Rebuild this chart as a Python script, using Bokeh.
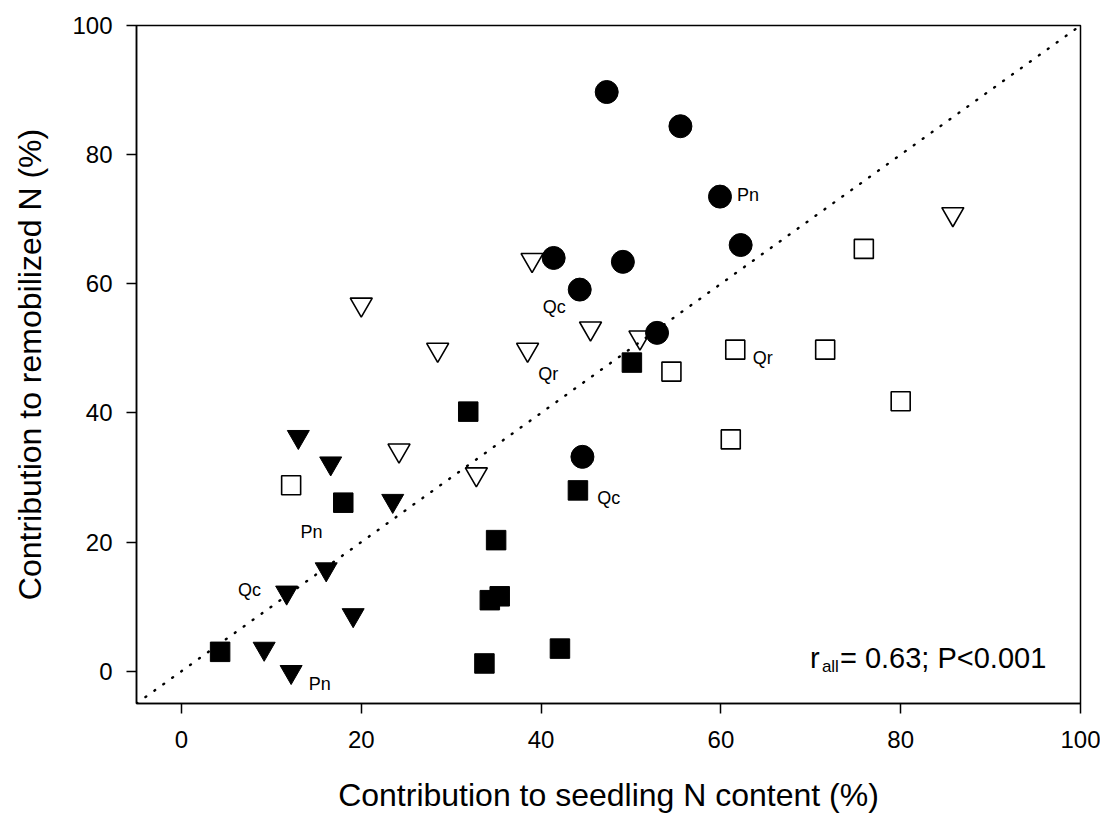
from bokeh.plotting import figure
from bokeh.models import Range1d, FixedTicker, ColumnDataSource
from bokeh.core.properties import value
from bokeh.embed import file_html
from bokeh.resources import INLINE

# ---- data ----
circ_x = [47.3, 55.5, 59.9, 62.2, 41.4, 49.1, 44.3, 52.9, 44.6]
circ_y = [89.7, 84.4, 73.5, 66.0, 64.0, 63.4, 59.1, 52.4, 33.2]

sqf_x = [4.3, 18.0, 31.9, 35.0, 34.3, 35.4, 33.7, 42.1, 44.1, 50.1]
sqf_y = [3.0, 26.1, 40.2, 20.3, 11.0, 11.6, 1.2, 3.5, 28.0, 47.8]

sqo_x = [12.2, 54.5, 61.6, 71.6, 80.0, 61.1, 75.9]
sqo_y = [28.8, 46.4, 49.8, 49.8, 41.8, 35.9, 65.4]

trio_x = [20.0, 39.0, 45.5, 28.5, 38.5, 51.0, 85.8, 24.2, 32.8]
trio_y = [56.8, 63.7, 53.1, 49.8, 49.8, 51.7, 70.8, 34.2, 30.5]

trif_x = [13.0, 16.6, 23.5, 16.1, 11.7, 19.1, 9.2, 12.2]
trif_y = [36.3, 32.2, 26.4, 15.8, 12.2, 8.7, 3.5, -0.1]

one_to_one = [-5, 100]
ticks = [0, 20, 40, 60, 80, 100]

# point labels: (series, index, text)
label_series = ["circ", "circ", "trio", "sqo", "sqf", "sqf", "trif", "trif"]
label_index = [2, 6, 4, 2, 8, 1, 4, 7]
label_text = ["Pn", "Qc", "Qr", "Qr", "Qc", "Pn", "Qc", "Pn"]

stat_main = "= 0.63; P<0.001"
stat_r = "r"
stat_sub = "all"

# ---- styles ----
FONT = "Liberation Sans"
label_dx = [17, -37, 10.6, 17.4, 19.4, -42.7, -48.7, 17.6]
label_dy = [-2, 17.7, 24.5, 8.7, 7.7, 29, -2.5, 11.8]

series = {"circ": (circ_x, circ_y), "sqf": (sqf_x, sqf_y), "sqo": (sqo_x, sqo_y),
          "trio": (trio_x, trio_y), "trif": (trif_x, trif_y)}

p = figure(width=1100, height=815,
           x_range=Range1d(-5, 100), y_range=Range1d(-5, 100),
           output_backend="svg", toolbar_location=None,
           min_border_left=136, min_border_right=20,
           min_border_top=25, min_border_bottom=110)
p.background_fill_color = "white"
p.border_fill_color = "white"
p.xgrid.visible = False
p.ygrid.visible = False
p.outline_line_color = "black"
p.outline_line_width = 1.5

p.xaxis.axis_label = "Contribution to seedling N content (%)"
p.yaxis.axis_label = "Contribution to remobilized N (%)"
for ax in (p.xaxis[0], p.yaxis[0]):
    ax.ticker = FixedTicker(ticks=ticks)
    ax.axis_line_width = 1.5
    ax.axis_line_color = "black"
    ax.major_tick_line_width = 1.5
    ax.major_tick_line_color = "black"
    ax.major_tick_out = 10
    ax.major_tick_in = 0
    ax.minor_tick_out = 0
    ax.minor_tick_in = 0
    ax.major_label_text_font = FONT
    ax.major_label_text_font_size = "24px"
    ax.major_label_text_color = "black"
    ax.axis_label_text_font = FONT
    ax.axis_label_text_font_size = "32px"
    ax.axis_label_text_font_style = "normal"
    ax.axis_label_text_color = "black"
p.xaxis.major_label_standoff = 17
p.xaxis.axis_label_standoff = 26
p.yaxis.major_label_standoff = 14
p.yaxis.axis_label_standoff = 21

# 1:1 dotted line
p.line(one_to_one, one_to_one, line_color="black", line_width=2.4,
       line_dash="1 10", line_cap="round")

# open markers
p.scatter(sqo_x, sqo_y, marker="square", size=19, fill_alpha=0,
          line_color="black", line_width=1.6)
p.scatter(trio_x, trio_y, marker="inverted_triangle", size=22, fill_alpha=0,
          line_color="black", line_width=1.6)
# filled markers
p.scatter(circ_x, circ_y, marker="circle", size=23, fill_color="black",
          line_color="black", line_width=1)
p.scatter(sqf_x, sqf_y, marker="square", size=19.5, fill_color="black",
          line_color="black", line_width=1)
p.scatter(trif_x, trif_y, marker="inverted_triangle", size=22, fill_color="black",
          line_color="black", line_width=1)

# point labels
lx = [series[s][0][i] for s, i in zip(label_series, label_index)]
ly = [series[s][1][i] for s, i in zip(label_series, label_index)]
lsrc = ColumnDataSource(dict(x=lx, y=ly, t=label_text, dx=label_dx, dy=label_dy))
p.text(x="x", y="y", text="t", x_offset="dx", y_offset="dy", source=lsrc,
       text_font=value(FONT), text_font_size="18px", text_color="black",
       text_align="left", text_baseline="alphabetic")

# statistics annotation
ax_, ay_ = 69.9, 2.0
p.text(x=[ax_], y=[ay_], text=[stat_r], text_font=value(FONT), text_font_size="29px",
       text_color="black", text_align="left", text_baseline="alphabetic")
p.text(x=[ax_], y=[ay_], text=[stat_sub], x_offset=12, y_offset=8, text_font=value(FONT),
       text_font_size="17px", text_color="black", text_align="left",
       text_baseline="alphabetic")
p.text(x=[ax_], y=[ay_], text=[stat_main], x_offset=30, text_font=value(FONT),
       text_font_size="29px", text_color="black", text_align="left",
       text_baseline="alphabetic")

open("out.html", "w").write(file_html(p, INLINE))
